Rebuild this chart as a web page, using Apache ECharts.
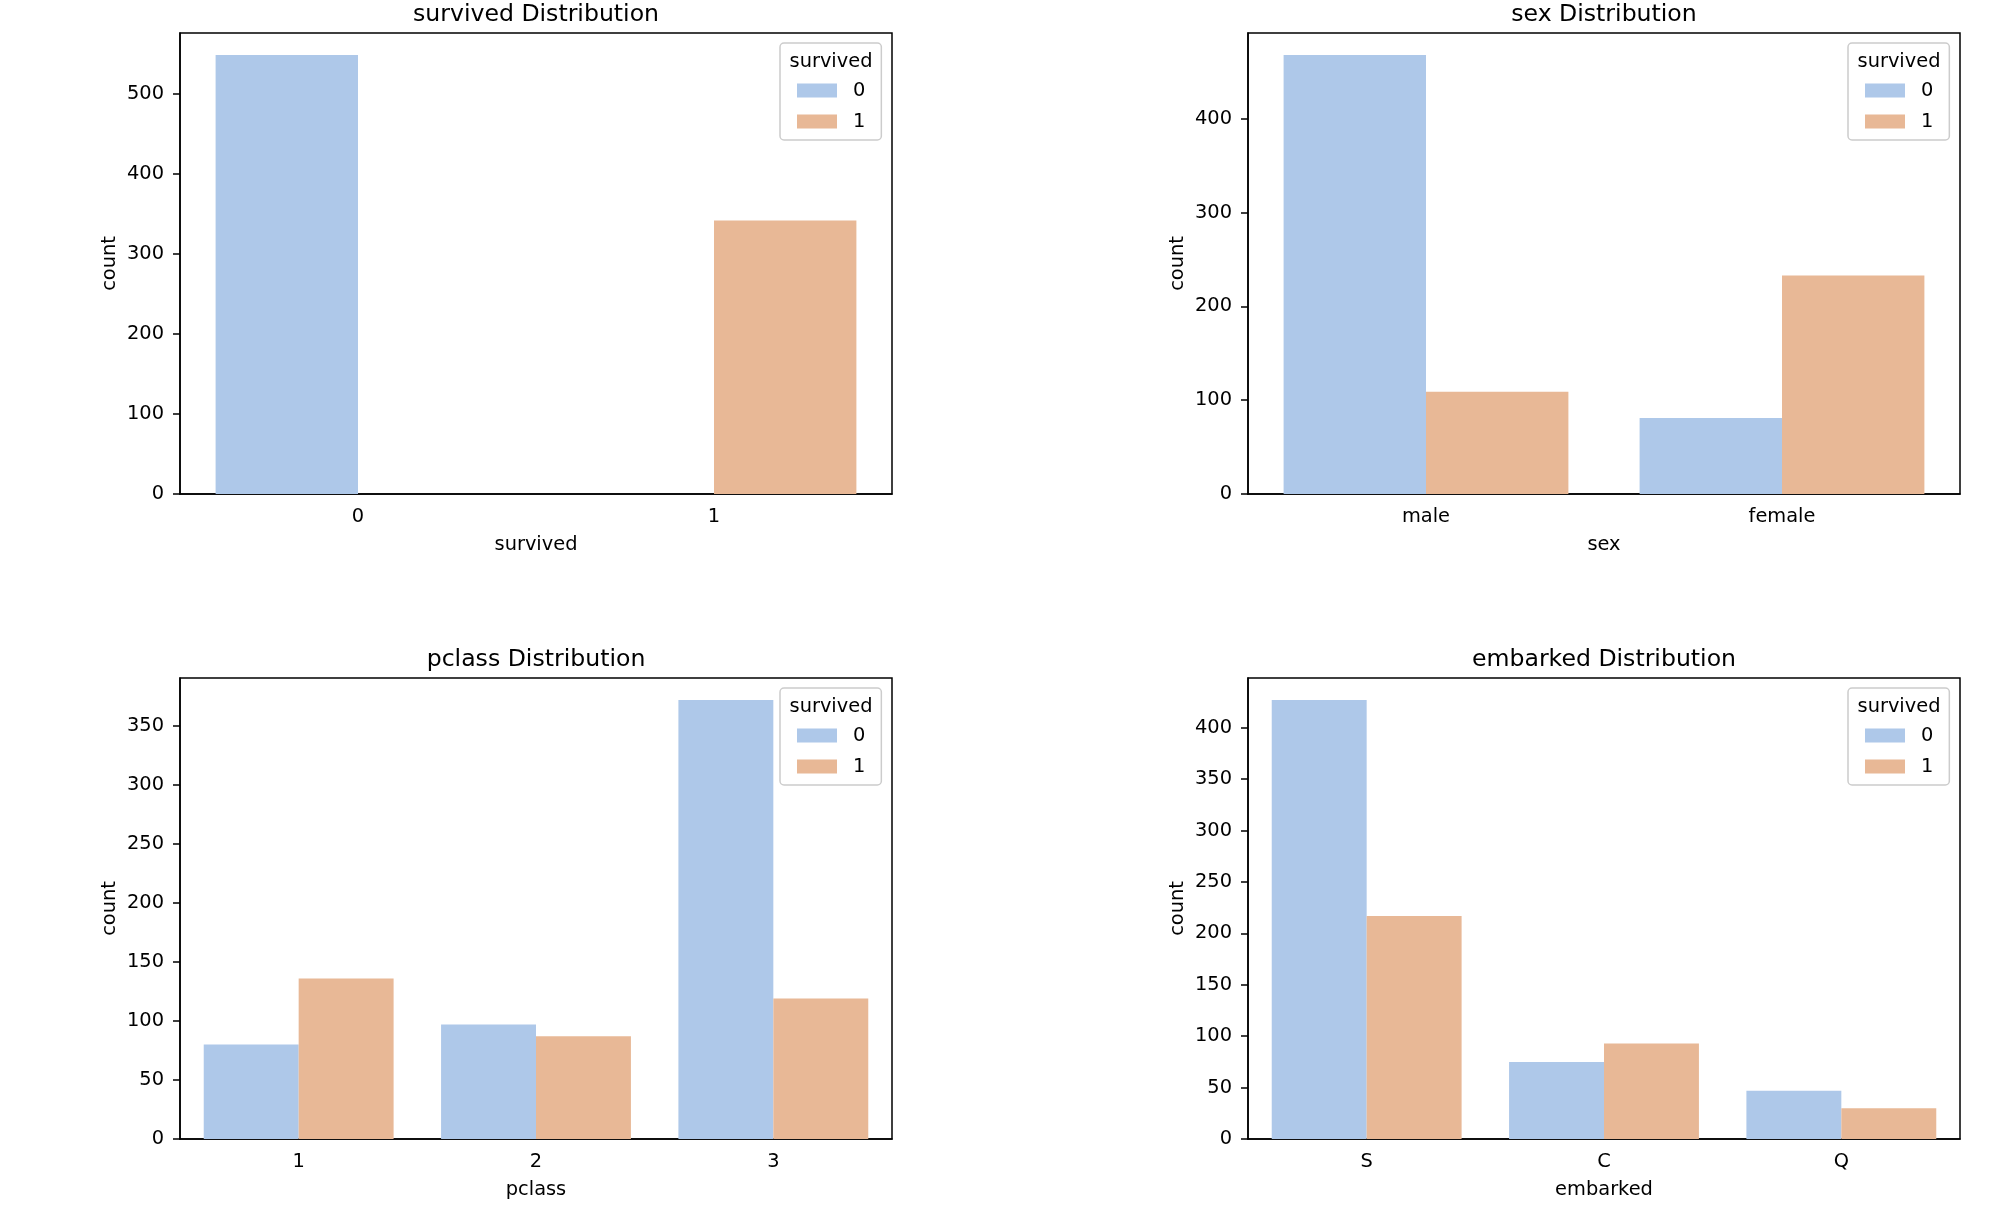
<!DOCTYPE html>
<html>
<head>
<meta charset="utf-8">
<script src="https://cdn.jsdelivr.net/npm/echarts@6/dist/echarts.min.js"></script>
<style>
  html, body { margin: 0; padding: 0; background: #fff; }
  #chart { width: 1996px; height: 1220px; }
</style>
</head>
<body>
<div id="chart"></div>
<script>
// counts per category, split by survived (0 / 1)
const survivedCats = ['0', '1'];
const survivedNo = [549, null];
const survivedYes = [null, 342];
const survivedTicks = [0, 100, 200, 300, 400, 500];

const sexCats = ['male', 'female'];
const sexNo = [468, 81];
const sexYes = [109, 233];
const sexTicks = [0, 100, 200, 300, 400];

const pclassCats = ['1', '2', '3'];
const pclassNo = [80, 97, 372];
const pclassYes = [136, 87, 119];
const pclassTicks = [0, 50, 100, 150, 200, 250, 300, 350];

const embarkedCats = ['S', 'C', 'Q'];
const embarkedNo = [427, 75, 47];
const embarkedYes = [217, 93, 30];
const embarkedTicks = [0, 50, 100, 150, 200, 250, 300, 350, 400];

const hueNames = ['0', '1'];
const colors = ['#aec8e9', '#e8b896'];

const panels = [
  { name: 'survived', cats: survivedCats, no: survivedNo, yes: survivedYes, ticks: survivedTicks, left: 180, top: 33 },
  { name: 'sex', cats: sexCats, no: sexNo, yes: sexYes, ticks: sexTicks, left: 1248, top: 33 },
  { name: 'pclass', cats: pclassCats, no: pclassNo, yes: pclassYes, ticks: pclassTicks, left: 180, top: 678 },
  { name: 'embarked', cats: embarkedCats, no: embarkedNo, yes: embarkedYes, ticks: embarkedTicks, left: 1248, top: 678 }
];

const W = 712, H = 461;
const tickFont = 19.4, titleFont = 23.6;
const black = '#000';
const lw = 1.5;

let grids = [], xAxes = [], yAxes = [], series = [], legends = [], texts = [];

panels.forEach((p, i) => {
  grids.push({
    left: p.left, top: p.top, width: W, height: H,
    show: true, borderColor: black, borderWidth: lw, backgroundColor: 'transparent'
  });

  xAxes.push({
    type: 'category', gridIndex: i, data: p.cats,
    name: p.name, nameLocation: 'middle', nameGap: 41,
    nameTextStyle: { fontSize: tickFont, color: black },
    axisLine: { lineStyle: { color: black, width: lw } },
    axisTick: { alignWithLabel: true, length: 7, lineStyle: { color: black, width: lw } },
    axisLabel: { fontSize: tickFont, color: black, margin: 13 }
  });

  let top = Math.max(...p.no.filter(v => v != null), ...p.yes.filter(v => v != null)) * 1.05;
  yAxes.push({
    type: 'value', gridIndex: i, min: 0, max: top,
    name: 'count', nameLocation: 'middle', nameGap: 61,
    nameTextStyle: { fontSize: tickFont, color: black },
    splitLine: { show: false },
    axisLine: { show: true, lineStyle: { color: black, width: lw } },
    axisTick: { show: true, length: 7, customValues: p.ticks, lineStyle: { color: black, width: lw } },
    axisLabel: { fontSize: tickFont, color: black, margin: 16, customValues: p.ticks }
  });

  [p.no, p.yes].forEach((vals, k) => {
    series.push({
      type: 'bar', name: hueNames[k], xAxisIndex: i, yAxisIndex: i,
      data: vals, barGap: '0%', barCategoryGap: '20%',
      itemStyle: { color: colors[k] },
      emphasis: { disabled: true }
    });
  });

  let lx = p.left + 600, ly = p.top + 10;
  legends.push({
    data: hueNames, orient: 'vertical', left: lx, top: ly,
    padding: [38, 16, 9, 17], itemGap: 12, itemWidth: 40, itemHeight: 14,
    icon: 'rect', selectedMode: false,
    borderColor: '#cccccc', borderWidth: lw, borderRadius: 4,
    backgroundColor: 'rgba(255,255,255,0.8)',
    textStyle: { fontSize: tickFont, color: black, lineHeight: 19, padding: [0, 0, 0, 11] }
  });

  // legend title
  texts.push({
    type: 'text', x: lx + 51, y: ly + 19, z: 100,
    style: { text: 'survived', fontSize: tickFont, fill: black, align: 'center', verticalAlign: 'middle', fontFamily: 'DejaVu Sans' }
  });
  // panel title
  texts.push({
    type: 'text', x: p.left + W / 2, y: p.top - 18,
    style: { text: p.name + ' Distribution', fontSize: titleFont, fill: black, align: 'center', verticalAlign: 'middle', fontFamily: 'DejaVu Sans' }
  });
});

const chart = echarts.init(document.getElementById('chart'));
chart.setOption({
  animation: false,
  backgroundColor: '#fff',
  textStyle: { fontFamily: 'DejaVu Sans' },
  grid: grids,
  xAxis: xAxes,
  yAxis: yAxes,
  legend: legends,
  series: series,
  graphic: texts
});
</script>
</body>
</html>
